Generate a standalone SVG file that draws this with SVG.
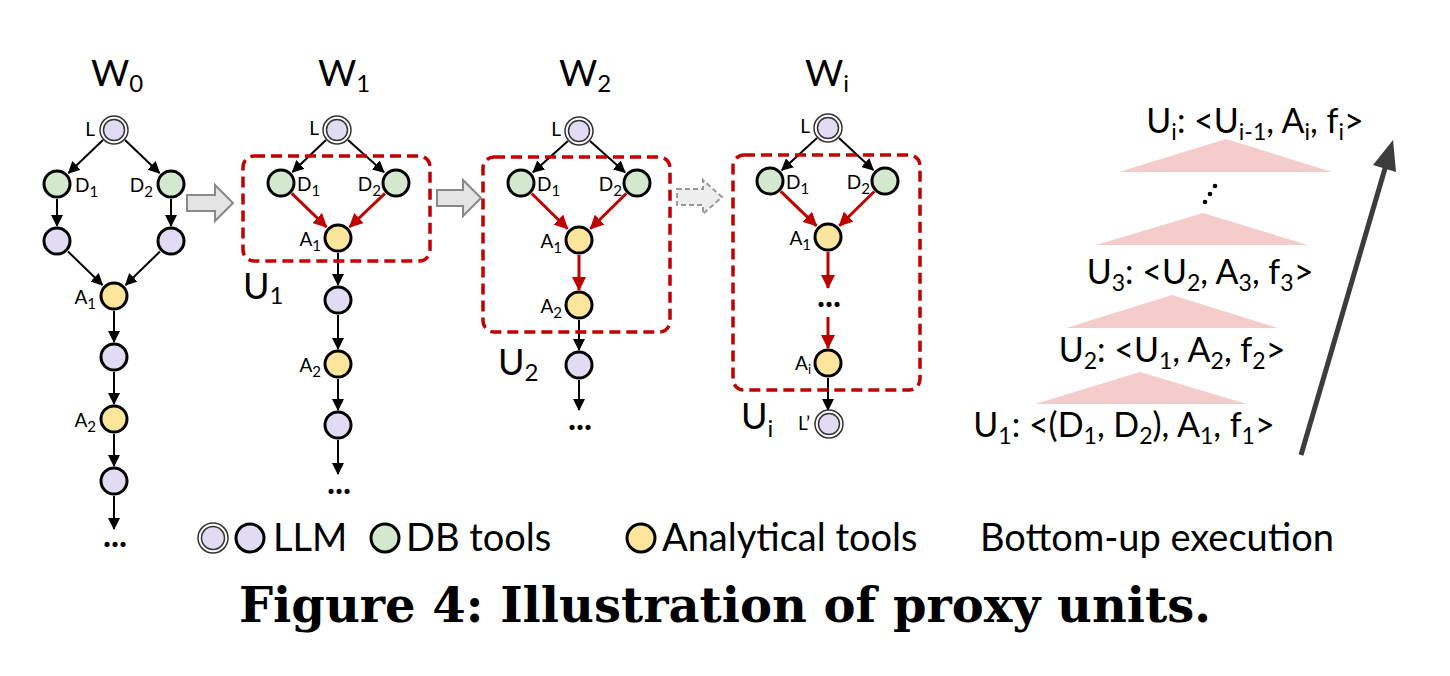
<svg xmlns="http://www.w3.org/2000/svg" width="1450" height="676" viewBox="0 0 1450 676">
<defs>
<marker id="ah" markerUnits="userSpaceOnUse" markerWidth="12" markerHeight="12" refX="11" refY="6" orient="auto"><path d="M0,0 L12,6 L0,12 z" fill="#000"/></marker>
<marker id="ahr" markerUnits="userSpaceOnUse" markerWidth="14" markerHeight="14" refX="13" refY="7" orient="auto"><path d="M0,0 L14,7 L0,14 z" fill="#c00000"/></marker>
</defs>
<style>
.llm{fill:#e1dcf4;stroke:#000;stroke-width:3}
.db{fill:#d4e8cf;stroke:#000;stroke-width:3}
.an{fill:#fde59c;stroke:#000;stroke-width:3}
.dbo{fill:#fff;stroke:#333;stroke-width:1.5}
.dbi{fill:#e1dcf4;stroke:#333;stroke-width:1.5}
.e{stroke:#000;stroke-width:2;fill:none;marker-end:url(#ah)}
.r{stroke:#c00000;stroke-width:3;fill:none;marker-end:url(#ahr)}
.box{fill:none;stroke:#c00000;stroke-width:3.5;stroke-dasharray:11 6}
.t{font-family:Lato,"Liberation Sans",sans-serif;fill:#000}
.lab{font-size:19px}
.title{font-size:37px}
.u{font-size:36px}
.dots{font-size:34px;font-weight:bold;text-anchor:middle}
.rt{font-size:34px;text-anchor:middle}
.tri{fill:#f4cccc}
.garr{fill:#e4e4e4;stroke:#888;stroke-width:2}
.leg{font-size:38px}
</style>

<g id="connectors">
<!-- W0 -->
<line class="e" x1="103" y1="140" x2="68.5" y2="173"/>
<line class="e" x1="125" y1="140" x2="159.5" y2="173"/>
<line class="e" x1="57" y1="199" x2="57" y2="226"/>
<line class="e" x1="171" y1="199" x2="171" y2="226"/>
<line class="e" x1="68" y1="251.5" x2="102.5" y2="285"/>
<line class="e" x1="160" y1="251.5" x2="125.5" y2="285"/>
<line class="e" x1="114" y1="311" x2="114" y2="342"/>
<line class="e" x1="114" y1="372" x2="114" y2="404"/>
<line class="e" x1="114" y1="434" x2="114" y2="466"/>
<line class="e" x1="114" y1="496" x2="114" y2="529"/>
<!-- W1 -->
<line class="e" x1="326" y1="140" x2="292.5" y2="172"/>
<line class="e" x1="348" y1="140" x2="384" y2="172.3"/>
<line class="r" x1="291.8" y1="193.4" x2="326.5" y2="227"/>
<line class="r" x1="385" y1="193.3" x2="349.6" y2="227"/>
<line class="e" x1="338" y1="253" x2="338" y2="285"/>
<line class="e" x1="338" y1="315" x2="338" y2="349"/>
<line class="e" x1="338" y1="379" x2="338" y2="410"/>
<line class="e" x1="338" y1="440" x2="338" y2="474"/>
<!-- W2 -->
<line class="e" x1="568" y1="141" x2="533" y2="172.3"/>
<line class="e" x1="590" y1="141" x2="625" y2="172.3"/>
<line class="r" x1="531.7" y1="193.5" x2="567.6" y2="228.8"/>
<line class="r" x1="626.3" y1="193.5" x2="590.4" y2="228.8"/>
<line class="r" x1="579" y1="255" x2="579" y2="290"/>
<line class="e" x1="579" y1="320" x2="579" y2="350"/>
<line class="e" x1="579" y1="380" x2="579" y2="410"/>
<!-- Wi -->
<line class="e" x1="817" y1="138" x2="781.8" y2="170.2"/>
<line class="e" x1="839" y1="138" x2="873.3" y2="170.1"/>
<line class="r" x1="780.8" y1="191.4" x2="816.5" y2="225.9"/>
<line class="r" x1="874.3" y1="191.5" x2="839.4" y2="225.8"/>
<line class="r" x1="828" y1="252" x2="828" y2="288"/>
<line class="r" x1="828" y1="317" x2="828" y2="348"/>
<line class="e" x1="828" y1="378" x2="828" y2="410"/>
</g>

<!-- boxes -->
<rect class="box" x="243" y="156" width="187" height="105" rx="11"/>
<rect class="box" x="483" y="157" width="187" height="175" rx="11"/>
<rect class="box" x="733" y="155" width="187" height="235" rx="11"/>

<!-- gray arrows -->
<path class="garr" d="M187,195 L215,195 L215,185 L233,203 L215,221 L215,211 L187,211 Z"/>
<path class="garr" d="M437,190 L463,190 L463,180 L481,198 L463,216 L463,206 L437,206 Z"/>
<path class="garr" d="M677,189 L703,189 L703,180 L722,197 L703,214 L703,205 L677,205 Z" style="fill:#eeeeee;stroke:#999;stroke-dasharray:5 3"/>

<!-- titles -->
<text class="t title" x="91" y="86">W<tspan font-size="24" dy="6">0</tspan></text>
<text class="t title" x="318" y="86">W<tspan font-size="24" dy="6">1</tspan></text>
<text class="t title" x="559" y="86">W<tspan font-size="24" dy="6">2</tspan></text>
<text class="t title" x="805" y="86">W<tspan font-size="24" dy="6">i</tspan></text>

<!-- W0 nodes -->
<g id="w0-L"><circle class="dbo" cx="114" cy="130" r="14"/><circle class="dbi" cx="114" cy="130" r="10.5"/><text class="t lab" x="95" y="136" text-anchor="end">L</text></g>
<g id="w0-D1"><circle class="db" cx="57" cy="184" r="13"/><text class="t lab" x="75" y="192">D<tspan font-size="15" dy="5">1</tspan></text></g>
<g id="w0-D2"><circle class="db" cx="171" cy="184" r="13"/><text class="t lab" x="153" y="192" text-anchor="end">D<tspan font-size="15" dy="5">2</tspan></text></g>
<g id="w0-C1"><circle class="llm" cx="57" cy="241" r="13"/></g>
<g id="w0-C2"><circle class="llm" cx="171" cy="241" r="13"/></g>
<g id="w0-A1"><circle class="an" cx="114" cy="296" r="13"/><text class="t lab" x="96" y="304" text-anchor="end">A<tspan font-size="15" dy="5">1</tspan></text></g>
<g id="w0-C3"><circle class="llm" cx="114" cy="357" r="13"/></g>
<g id="w0-A2"><circle class="an" cx="114" cy="419" r="13"/><text class="t lab" x="96" y="427" text-anchor="end">A<tspan font-size="15" dy="5">2</tspan></text></g>
<g id="w0-C4"><circle class="llm" cx="114" cy="481" r="13"/></g>
<text class="t dots" x="115" y="547">...</text>

<!-- W1 nodes -->
<g id="w1-L"><circle class="dbo" cx="337" cy="130" r="14"/><circle class="dbi" cx="337" cy="130" r="10.5"/><text class="t lab" x="319" y="135" text-anchor="end">L</text></g>
<g id="w1-D1"><circle class="db" cx="281" cy="183" r="13"/><text class="t lab" x="297" y="191">D<tspan font-size="15" dy="5">1</tspan></text></g>
<g id="w1-D2"><circle class="db" cx="396" cy="183" r="13"/><text class="t lab" x="381" y="191" text-anchor="end">D<tspan font-size="15" dy="5">2</tspan></text></g>
<g id="w1-A1"><circle class="an" cx="338" cy="238" r="13"/><text class="t lab" x="321" y="246" text-anchor="end">A<tspan font-size="15" dy="5">1</tspan></text></g>
<g id="w1-C1"><circle class="llm" cx="338" cy="300" r="13"/></g>
<g id="w1-A2"><circle class="an" cx="338" cy="364" r="13"/><text class="t lab" x="321" y="372" text-anchor="end">A<tspan font-size="15" dy="5">2</tspan></text></g>
<g id="w1-C2"><circle class="llm" cx="338" cy="425" r="13"/></g>
<text class="t dots" x="339" y="494">...</text>
<text class="t u" x="243" y="299">U<tspan font-size="24" dy="5">1</tspan></text>

<!-- W2 nodes -->
<g id="w2-L"><circle class="dbo" cx="579" cy="131" r="14"/><circle class="dbi" cx="579" cy="131" r="10.5"/><text class="t lab" x="561" y="136" text-anchor="end">L</text></g>
<g id="w2-D1"><circle class="db" cx="521" cy="183" r="13"/><text class="t lab" x="537" y="191">D<tspan font-size="15" dy="5">1</tspan></text></g>
<g id="w2-D2"><circle class="db" cx="637" cy="183" r="13"/><text class="t lab" x="622" y="191" text-anchor="end">D<tspan font-size="15" dy="5">2</tspan></text></g>
<g id="w2-A1"><circle class="an" cx="579" cy="240" r="13"/><text class="t lab" x="562" y="248" text-anchor="end">A<tspan font-size="15" dy="5">1</tspan></text></g>
<g id="w2-A2"><circle class="an" cx="579" cy="305" r="13"/><text class="t lab" x="562" y="313" text-anchor="end">A<tspan font-size="15" dy="5">2</tspan></text></g>
<g id="w2-C1"><circle class="llm" cx="579" cy="365" r="13"/></g>
<text class="t dots" x="580" y="430">...</text>
<text class="t u" x="498" y="375">U<tspan font-size="24" dy="6">2</tspan></text>

<!-- Wi nodes -->
<g id="wi-L"><circle class="dbo" cx="828" cy="128" r="14"/><circle class="dbi" cx="828" cy="128" r="10.5"/><text class="t lab" x="810" y="133" text-anchor="end">L</text></g>
<g id="wi-D1"><circle class="db" cx="770" cy="181" r="13"/><text class="t lab" x="786" y="189">D<tspan font-size="15" dy="5">1</tspan></text></g>
<g id="wi-D2"><circle class="db" cx="885" cy="181" r="13"/><text class="t lab" x="870" y="189" text-anchor="end">D<tspan font-size="15" dy="5">2</tspan></text></g>
<g id="wi-A1"><circle class="an" cx="828" cy="237" r="13"/><text class="t lab" x="811" y="245" text-anchor="end">A<tspan font-size="15" dy="5">1</tspan></text></g>
<text class="t dots" x="829" y="307">...</text>
<g id="wi-Ai"><circle class="an" cx="828" cy="363" r="13"/><text class="t lab" x="811" y="370" text-anchor="end">A<tspan font-size="13" dy="4">i</tspan></text></g>
<g id="wi-L2"><circle class="dbo" cx="829" cy="424" r="14"/><circle class="dbi" cx="829" cy="424" r="10.5"/><text class="t lab" x="810" y="430" text-anchor="end">L’</text></g>
<text class="t u" x="741" y="429">U<tspan font-size="24" dy="8">i</tspan></text>

<!-- right side -->
<g id="stack">
<polygon class="tri" points="1226,139 1119,172 1332,172"/>
<polygon class="tri" points="1203,213 1096,245 1308,245"/>
<polygon class="tri" points="1172,295 1066,328 1278,328"/>
<polygon class="tri" points="1140,372 1035,404 1247,404"/>
<circle cx="1215" cy="186" r="2.3" fill="#000"/>
<circle cx="1210" cy="194" r="2.3" fill="#000"/>
<circle cx="1205" cy="202" r="2.3" fill="#000"/>
<text class="t rt" x="1255" y="133">U<tspan font-size="23" dy="7">i</tspan><tspan dy="-7">: &lt;U</tspan><tspan font-size="23" dy="7">i-1</tspan><tspan dy="-7">, A</tspan><tspan font-size="23" dy="7">i</tspan><tspan dy="-7">, f</tspan><tspan font-size="23" dy="7">i</tspan><tspan dy="-7">&gt;</tspan></text>
<text class="t rt" x="1200" y="284">U<tspan font-size="23" dy="7">3</tspan><tspan dy="-7">: &lt;U</tspan><tspan font-size="23" dy="7">2</tspan><tspan dy="-7">, A</tspan><tspan font-size="23" dy="7">3</tspan><tspan dy="-7">, f</tspan><tspan font-size="23" dy="7">3</tspan><tspan dy="-7">&gt;</tspan></text>
<text class="t rt" x="1172" y="362">U<tspan font-size="23" dy="7">2</tspan><tspan dy="-7">: &lt;U</tspan><tspan font-size="23" dy="7">1</tspan><tspan dy="-7">, A</tspan><tspan font-size="23" dy="7">2</tspan><tspan dy="-7">, f</tspan><tspan font-size="23" dy="7">2</tspan><tspan dy="-7">&gt;</tspan></text>
<text class="t rt" x="1124" y="437">U<tspan font-size="23" dy="7">1</tspan><tspan dy="-7">: &lt;(D</tspan><tspan font-size="23" dy="7">1</tspan><tspan dy="-7">, D</tspan><tspan font-size="23" dy="7">2</tspan><tspan dy="-7">), A</tspan><tspan font-size="23" dy="7">1</tspan><tspan dy="-7">, f</tspan><tspan font-size="23" dy="7">1</tspan><tspan dy="-7">&gt;</tspan></text>
<line x1="1301" y1="455" x2="1386" y2="165" stroke="#3c3c3c" stroke-width="5"/>
<polygon points="1393,140 1396,172 1373,165" fill="#3c3c3c"/>
</g>

<!-- legend -->
<g id="legend">
<circle class="dbo" cx="213" cy="538" r="15"/><circle class="dbi" cx="213" cy="538" r="11.5"/>
<circle class="llm" cx="250" cy="538" r="14"/>
<text class="t leg" x="273" y="551">LLM</text>
<circle class="db" cx="385" cy="538" r="14"/>
<text class="t leg" x="406" y="551">DB tools</text>
<circle class="an" cx="641" cy="538" r="14"/>
<text class="t leg" x="662" y="551">Analytical tools</text>
<text class="t leg" x="980" y="551">Bottom-up execution</text>
</g>

<text x="725" y="622" text-anchor="middle" font-family="'DejaVu Serif',serif" font-weight="bold" font-size="48">Figure 4: Illustration of proxy units.</text>
</svg>
